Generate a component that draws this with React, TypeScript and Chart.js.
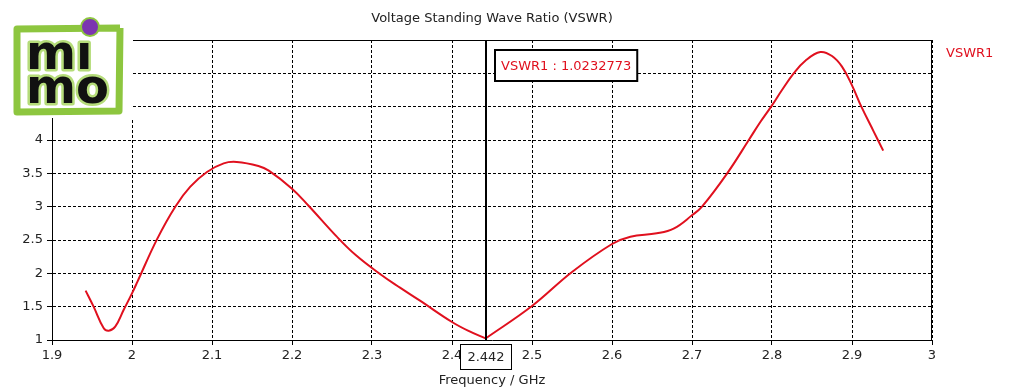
import React, { useEffect, useRef } from "react";
import { Chart, registerables } from "chart.js";

Chart.register(...registerables);

// Frequency (GHz) samples
const freqs = [
  1.942, 1.952, 1.9645, 1.971, 1.979, 1.9895, 2.0, 2.007, 2.0312, 2.0541, 2.0729, 2.0937, 2.1146,
  2.131, 2.158, 2.171, 2.2, 2.221, 2.256, 2.28, 2.31, 2.335, 2.36, 2.4, 2.42, 2.442,
  2.5, 2.55, 2.6, 2.623, 2.656, 2.677, 2.7, 2.7125, 2.744, 2.771, 2.7854, 2.8, 2.8125, 2.8271,
  2.8417, 2.8604, 2.875, 2.8875, 2.9, 2.9117, 2.927, 2.939,
];
// VSWR1 values
const vswr = [
  1.74, 1.5, 1.18, 1.14, 1.2, 1.45, 1.7, 1.88, 2.51, 3.0, 3.3, 3.52, 3.65,
  3.67, 3.61, 3.54, 3.27, 3.01, 2.55, 2.27, 1.99, 1.785, 1.59, 1.27, 1.14, 1.0232773,
  1.51, 2.02, 2.44, 2.55, 2.6, 2.67, 2.87, 3.0, 3.5, 4.0, 4.27, 4.52, 4.75, 5.0,
  5.19, 5.32, 5.26, 5.1, 4.82, 4.5, 4.13, 3.84,
];

const titleText = "Voltage Standing Wave Ratio (VSWR)";
const xAxisTitle = "Frequency / GHz";
const seriesName = "VSWR1";
const markerFreq = 2.442;
const markerValue = 1.0232773;
const xMin = 1.9;
const xMax = 3.0;
const xStep = 0.1;
const yMin = 1;
const yMax = 5.5;
const yStep = 0.5;

const FONT = '"DejaVu Sans", Tahoma, sans-serif';
const RED = "#e0101e";

function fmt(v: number) {
  return String(Number(v.toFixed(3)));
}

const overlayPlugin = {
  id: "overlay",
  afterDatasetsDraw(chart: any) {
    const { ctx, chartArea } = chart;
    const xs = chart.scales.x;
    const mx = Math.round(xs.getPixelForValue(markerFreq));
    ctx.save();
    ctx.strokeStyle = "#000";
    ctx.lineWidth = 1;
    ctx.setLineDash([]);
    ctx.beginPath();
    ctx.moveTo(chartArea.left, chartArea.top + 0.5);
    ctx.lineTo(chartArea.right, chartArea.top + 0.5);
    ctx.moveTo(chartArea.right - 0.5, chartArea.top);
    ctx.lineTo(chartArea.right - 0.5, chartArea.bottom);
    ctx.stroke();
    // marker line
    ctx.lineWidth = 2;
    ctx.beginPath();
    ctx.moveTo(mx, chartArea.top);
    ctx.lineTo(mx, chartArea.bottom);
    ctx.stroke();
    // marker value box
    ctx.font = "13px " + FONT;
    const label = seriesName + " : " + String(markerValue);
    const tw = ctx.measureText(label).width;
    const bx = mx + 9;
    const by = chartArea.top + 10;
    const bw = tw + 12;
    const bh = 31;
    ctx.fillStyle = "#fff";
    ctx.fillRect(bx, by, bw, bh);
    ctx.lineWidth = 2;
    ctx.strokeRect(bx, by, bw, bh);
    ctx.fillStyle = RED;
    ctx.textAlign = "left";
    ctx.textBaseline = "middle";
    ctx.fillText(label, bx + 6, by + bh / 2 + 1);
    // x marker box
    const xl = String(markerFreq);
    const xw = ctx.measureText(xl).width;
    const xbw = Math.round(xw + 14);
    const xbx = Math.round(mx - xbw / 2 - 1);
    const xby = chartArea.bottom + 4.5;
    ctx.fillStyle = "#fff";
    ctx.fillRect(xbx, xby, xbw, 25);
    ctx.lineWidth = 1;
    ctx.strokeRect(xbx + 0.5, xby, xbw, 25);
    ctx.fillStyle = "#222";
    ctx.textAlign = "center";
    ctx.fillText(xl, xbx + xbw / 2 + 0.5, xby + 13);
    ctx.restore();
  },
  afterDraw(chart: any) {
    const { ctx, chartArea } = chart;
    ctx.save();
    ctx.font = "13px " + FONT;
    ctx.fillStyle = "#222";
    ctx.textAlign = "center";
    ctx.textBaseline = "middle";
    const cx = (chartArea.left + chartArea.right) / 2;
    ctx.fillText(titleText, cx, 19);
    ctx.fillText(xAxisTitle, cx, 381);
    ctx.fillStyle = RED;
    ctx.textAlign = "left";
    ctx.fillText(seriesName, chartArea.right + 14, 54);

    // logo
    ctx.fillStyle = "#fff";
    ctx.fillRect(0, 0, 133, 118);
    ctx.strokeStyle = "#8dc63f";
    ctx.lineWidth = 7;
    ctx.lineJoin = "round";
    ctx.beginPath();
    ctx.moveTo(120, 28);
    ctx.lineTo(17, 29);
    ctx.lineTo(17, 112);
    ctx.lineTo(119, 111);
    ctx.lineTo(120, 28);
    ctx.stroke();
    ctx.font = "bold 48px " + FONT;
    ctx.textAlign = "left";
    ctx.textBaseline = "alphabetic";
    ctx.lineWidth = 5;
    ctx.lineJoin = "round";
    ctx.strokeStyle = "#b5dc7a";
    ctx.strokeText("m\u0131", 26, 69);
    ctx.strokeText("mo", 26, 103);
    ctx.fillStyle = "#111";
    ctx.fillText("m\u0131", 26, 69);
    ctx.fillText("mo", 26, 103);
    ctx.beginPath();
    ctx.arc(90, 27, 9, 0, Math.PI * 2);
    ctx.fillStyle = "#7b35b0";
    ctx.fill();
    ctx.lineWidth = 2;
    ctx.strokeStyle = "#8dc63f";
    ctx.stroke();
    ctx.restore();
  },
};

export default function App() {
  const ref = useRef<HTMLCanvasElement | null>(null);
  useEffect(() => {
    if (!ref.current) return;
    const pts = freqs.map((f, i) => ({ x: f, y: vswr[i] }));
    const left = pts.filter((p) => p.x <= markerFreq);
    const right = pts.filter((p) => p.x >= markerFreq);
    const common = {
      borderColor: RED,
      borderWidth: 2,
      pointRadius: 0,
      fill: false,
      tension: 0.4,
    };
    const chart = new Chart(ref.current, {
      type: "line",
      data: {
        datasets: [
          { label: seriesName, data: left, ...common },
          { label: seriesName, data: right, ...common },
        ],
      },
      options: {
        responsive: false,
        animation: false,
        events: [],
        layout: { padding: { left: 0, right: 86, top: 40, bottom: 0 } },
        plugins: {
          legend: { display: false },
          title: { display: false },
          tooltip: { enabled: false },
        },
        scales: {
          x: {
            type: "linear",
            min: xMin,
            max: xMax,
            ticks: {
              stepSize: xStep,
              color: "#222",
              font: { family: FONT, size: 13 },
              padding: 3,
              maxRotation: 0,
              autoSkip: false,
              callback: (v: any) => fmt(Number(v)),
            },
            grid: {
              color: "#000",
              lineWidth: 1,
              tickLength: 5,
              tickColor: "#000",
              tickBorderDash: [],
            },
            border: { display: true, color: "#000", width: 1, dash: [3, 2] },
            afterFit: (s: any) => {
              s.height = 49;
            },
          },
          y: {
            type: "linear",
            min: yMin,
            max: yMax,
            ticks: {
              stepSize: yStep,
              color: "#222",
              font: { family: FONT, size: 13 },
              padding: 4,
              autoSkip: false,
              callback: (v: any) => fmt(Number(v)),
            },
            grid: {
              color: "#000",
              lineWidth: 1,
              tickLength: 5,
              tickColor: "#000",
              tickBorderDash: [],
            },
            border: { display: true, color: "#000", width: 1, dash: [3, 2] },
            afterFit: (s: any) => {
              s.width = 52;
            },
          },
        },
      } as any,
      plugins: [overlayPlugin as any],
    });
    return () => chart.destroy();
  }, []);
  return (
    <div style={{ position: "absolute", left: 0, top: 0, width: 1018, height: 389, background: "#fff" }}>
      <canvas ref={ref} width={1018} height={389} />
    </div>
  );
}
